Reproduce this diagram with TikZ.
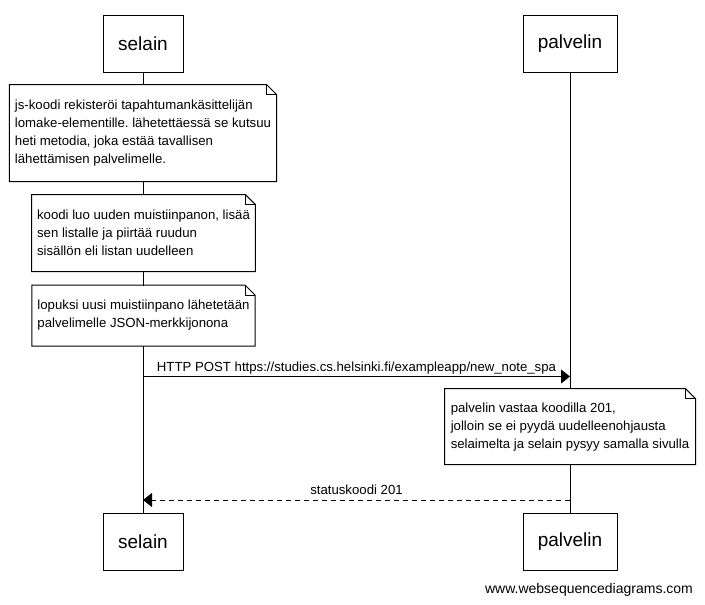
\documentclass[tikz,border=0pt]{standalone}
\usepackage{fontspec}
\setmainfont{Liberation Sans}
\usetikzlibrary{arrows.meta}
\frenchspacing

\begin{document}
\begin{tikzpicture}[x=1pt, y=-1pt, line width=1pt,
  actor/.style={draw, fill=white, minimum height=57pt, inner sep=0pt, font=\fontsize{19}{22}\selectfont},
  note/.style={fill=white, inner xsep=5pt, inner ysep=0pt, align=left, font=\fontsize{13.2}{18}\selectfont},
  msg/.style={-{Triangle[length=9pt,width=14pt]}},
  reply/.style={msg, dash pattern=on 5pt off 4pt},
  msglabel/.style={above, inner sep=2pt, text depth=3pt, font=\fontsize{13.2}{16}\selectfont}]
\useasboundingbox (0,0) rectangle (705,605);
\node[actor, minimum width=80pt] (S1) at (143,43.5) {selain};
\node[actor, minimum width=94pt] (P1) at (570,43.5) {palvelin};
\node[actor, minimum width=80pt] (S2) at (143,542) {selain};
\node[actor, minimum width=94pt] (P2) at (570,542) {palvelin};
\draw (S1) -- (S2);
\draw (P1) -- (P2);
\node[note, minimum width=264pt, minimum height=96pt] (N1) at (143,133) {js-koodi rekisteröi tapahtumankäsittelijän\\lomake-elementille. lähetettäessä se kutsuu\\heti metodia, joka estää tavallisen\\lähettämisen palvelimelle.};
\node[note, minimum width=221pt, minimum height=76pt] (N2) at (143.5,233) {koodi luo uuden muistiinpanon, lisää\\sen listalle ja piirtää ruudun\\sisällön eli listan uudelleen};
\node[note, minimum width=221pt, minimum height=60pt] (N3) at (143.5,315.5) {lopuksi uusi muistiinpano lähetetään\\palvelimelle JSON-merkkijonona};
\node[note, minimum width=250pt, minimum height=75pt] (N4) at (570,426.7) {palvelin vastaa koodilla 201,\\jolloin se ei pyydä uudelleenohjausta\\selaimelta ja selain pysyy samalla sivulla};
\foreach \n in {N1,N2,N3,N4} {
  \draw (\n.north west) -- ([xshift=-10pt]\n.north east) -- ([yshift=-10pt]\n.north east) -- (\n.south east) -- (\n.south west) -- cycle;
  \draw[line width=0.6pt] ([xshift=-10pt]\n.north east) |- ([yshift=-10pt]\n.north east);
}
\coordinate (M1a) at (143,376.5);
\coordinate (M1b) at (570,376.5);
\coordinate (M2a) at (570,500);
\coordinate (M2b) at (143,500);
\draw[msg] (M1a) -- node[msglabel] {HTTP POST https://studies.cs.helsinki.fi/exampleapp/new\_note\_spa} (M1b);
\draw[reply] (M2a) -- node[msglabel] {statuskoodi 201} (M2b);
\node[anchor=base, font=\fontsize{14}{16}\selectfont] (W) at (589,593) {www.websequencediagrams.com};
\end{tikzpicture}
\end{document}
